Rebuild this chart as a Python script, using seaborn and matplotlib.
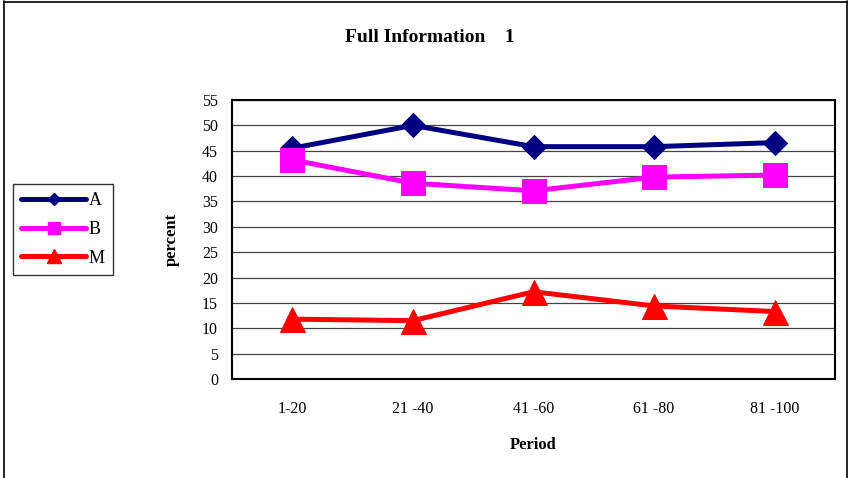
import matplotlib
matplotlib.use("Agg")
import matplotlib.pyplot as plt
import seaborn as sns
import pandas as pd
from matplotlib.lines import Line2D

# data
periods = ["1-20", "21 -40", "41 -60", "61 -80", "81 -100"]
share_a = [45.5, 50.0, 45.8, 45.8, 46.6]
share_b = [43.2, 38.6, 37.1, 39.8, 40.2]
share_m = [11.8, 11.5, 17.2, 14.4, 13.3]

sns.set_theme(style="white")
plt.rcParams["font.family"] = ["Liberation Serif", "DejaVu Serif"]
plt.rcParams.update({"text.color": "black", "axes.labelcolor": "black",
                     "xtick.color": "black", "ytick.color": "black"})

fig = plt.figure(figsize=(8.49, 4.78), dpi=100)
ax = fig.add_axes([232 / 849, 1 - 379 / 478, 603 / 849, 279 / 478])

series = [
    ("A", share_a, "#000080", "D", 12),
    ("B", share_b, "#FF00FF", "s", 17),
    ("M", share_m, "#FF0000", "^", 18),
]
for name, vals, col, mk, ms in series:
    df = pd.DataFrame({"x": range(len(periods)), "y": vals})
    sns.lineplot(data=df, x="x", y="y", ax=ax, color=col, lw=3.6,
                 marker=mk, markersize=ms, markeredgecolor=col,
                 label=name, legend=False)

ax.set_xlim(-0.5, len(periods) - 0.5)
ax.set_ylim(0, 55)
ax.set_yticks(range(0, 56, 5))
ax.set_xticks(range(len(periods)))
ax.set_xticklabels(periods)
ax.set_xticks([i - 0.5 for i in range(len(periods) + 1)], minor=True)
ax.tick_params(axis="x", which="major", length=0, pad=16, labelsize=11.5)
ax.tick_params(axis="x", which="minor", length=6, width=1, color="black", direction="out")
ax.tick_params(axis="y", length=6, width=1, color="black", direction="out", pad=4, labelsize=11.5)
ax.yaxis.grid(True, color="#444444", lw=0.9)
ax.set_axisbelow(True)
for sp in ax.spines.values():
    sp.set_color("black")
    sp.set_linewidth(1.5)

ax.set_xlabel("Period", fontsize=12, fontweight="bold", labelpad=14)
ax.set_ylabel("percent", fontsize=12, fontweight="bold", labelpad=16)
fig.text(430 / 849, 1 - 37 / 478, "Full Information    1", ha="center", va="center",
         fontsize=14, fontweight="bold")

# legend on the left side
handles = [Line2D([0], [0], color=c, lw=3.6, marker=m, markersize=s * 0.55,
                  markeredgecolor=c) for _, _, c, m, s in series]
leg = fig.legend(handles, [s[0] for s in series], loc="upper left",
                 bbox_to_anchor=(13 / 849, 1 - 184 / 478), frameon=True,
                 fontsize=13, handlelength=3.6, handletextpad=0.15,
                 labelspacing=0.65, borderpad=0.45, borderaxespad=0, fancybox=False)
leg.get_frame().set_edgecolor("black")
leg.get_frame().set_linewidth(1)

# outer chart border
fig.add_artist(Line2D([4 / 849, 4 / 849], [0, 1 - 1 / 478], color="black", lw=1.2, transform=fig.transFigure))
fig.add_artist(Line2D([4 / 849, 847 / 849], [1 - 1.5 / 478, 1 - 1.5 / 478], color="black", lw=1.2, transform=fig.transFigure))
fig.add_artist(Line2D([847 / 849, 847 / 849], [0, 1 - 1 / 478], color="black", lw=1.2, transform=fig.transFigure))

fig.savefig("out.png", dpi=100)
